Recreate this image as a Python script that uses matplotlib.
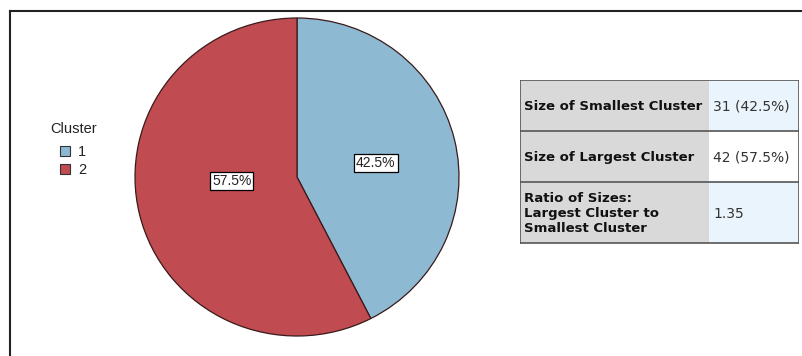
import matplotlib.pyplot as plt
from matplotlib.patches import Rectangle

plt.rcParams['font.family'] = ['Liberation Sans', 'DejaVu Sans']

clusters = ['1', '2']
counts = [31, 42]
colors = ['#8db9d3', '#c04b51']

row_labels = ['Size of Smallest Cluster', 'Size of Largest Cluster',
              'Ratio of Sizes:\nLargest Cluster to\nSmallest Cluster']
row_values = ['31 (42.5%)', '42 (57.5%)', '1.35']

W, H = 802, 356
fig = plt.figure(figsize=(W / 100, H / 100), dpi=100)


def px_axes(x0, y0, x1, y1):
    # pixel box (top-left origin) -> figure axes
    return fig.add_axes([x0 / W, 1 - y1 / H, (x1 - x0) / W, (y1 - y0) / H])


# outer frame (top and left only visible)
fig.add_artist(plt.Line2D([10 / W, 10 / W], [0, 1 - 11 / H], color='#222222', lw=1.5))
fig.add_artist(plt.Line2D([10 / W, 1], [1 - 11 / H, 1 - 11 / H], color='#222222', lw=1.5))

# pie
ax = px_axes(135, 18, 459, 336)
wedges, texts, autotexts = ax.pie(
    counts, colors=colors, startangle=90, counterclock=False,
    autopct='%.1f%%', pctdistance=0.5,
    wedgeprops=dict(edgecolor='#3a1a1a', linewidth=0.9),
    textprops=dict(fontsize=10, color='#222222'))
ax.set_aspect('auto')
ax.set_xlim(-1.0, 1.0)
ax.set_ylim(-1.0, 1.0)
for t in autotexts:
    t.set_bbox(dict(facecolor='white', edgecolor='black', boxstyle='square,pad=0.15', linewidth=0.9))
x0, y0 = autotexts[0].get_position()
autotexts[0].set_position((x0, y0 * 0.75))
x1, y1 = autotexts[1].get_position()
autotexts[1].set_position((x1 * 0.83, y1 * 0.2))

# legend
fig.text(50 / W, 1 - 129 / H, 'Cluster', fontsize=10.5, color='#222222', va='center')
for i, (c, col) in enumerate(zip(clusters, colors)):
    y = 146 + i * 18
    fig.add_artist(Rectangle((60 / W, 1 - (y + 10) / H), 10 / W, 10 / H,
                             facecolor=col, edgecolor='#333333', lw=0.8))
    fig.text(78 / W, 1 - (y + 6) / H, c, fontsize=10.5, color='#222222', va='center')

# table
tx = px_axes(520, 80, 799, 244)
tx.set_xlim(520, 799)
tx.set_ylim(244, 80)
tx.axis('off')
row_edges = [80, 131, 182, 243]
right_fill = ['#eaf4fc', '#ffffff', '#eaf4fc']
for i in range(len(row_labels)):
    ya, yb = row_edges[i], row_edges[i + 1]
    tx.add_patch(Rectangle((520, ya), 189, yb - ya, facecolor='#d9d9d9', edgecolor='none'))
    tx.add_patch(Rectangle((709, ya), 90, yb - ya, facecolor=right_fill[i], edgecolor='none'))
    tx.text(524, (ya + yb) / 2 + 1, row_labels[i], fontsize=9.5, fontweight='bold',
            family='DejaVu Sans', va='center', ha='left', color='#111111', linespacing=1.15)
    tx.text(713, (ya + yb) / 2 + 1, row_values[i], fontsize=10, family='DejaVu Sans',
            va='center', ha='left', color='#333333')
    tx.plot([520, 799], [yb, yb], color='#555555', lw=1.2)
tx.plot([520, 799], [80, 80], color='#555555', lw=1.2)
tx.plot([520, 520], [80, 243], color='#555555', lw=1.2)
tx.plot([799, 799], [80, 243], color='#555555', lw=1.2)

fig.savefig('out.png', dpi=100)
